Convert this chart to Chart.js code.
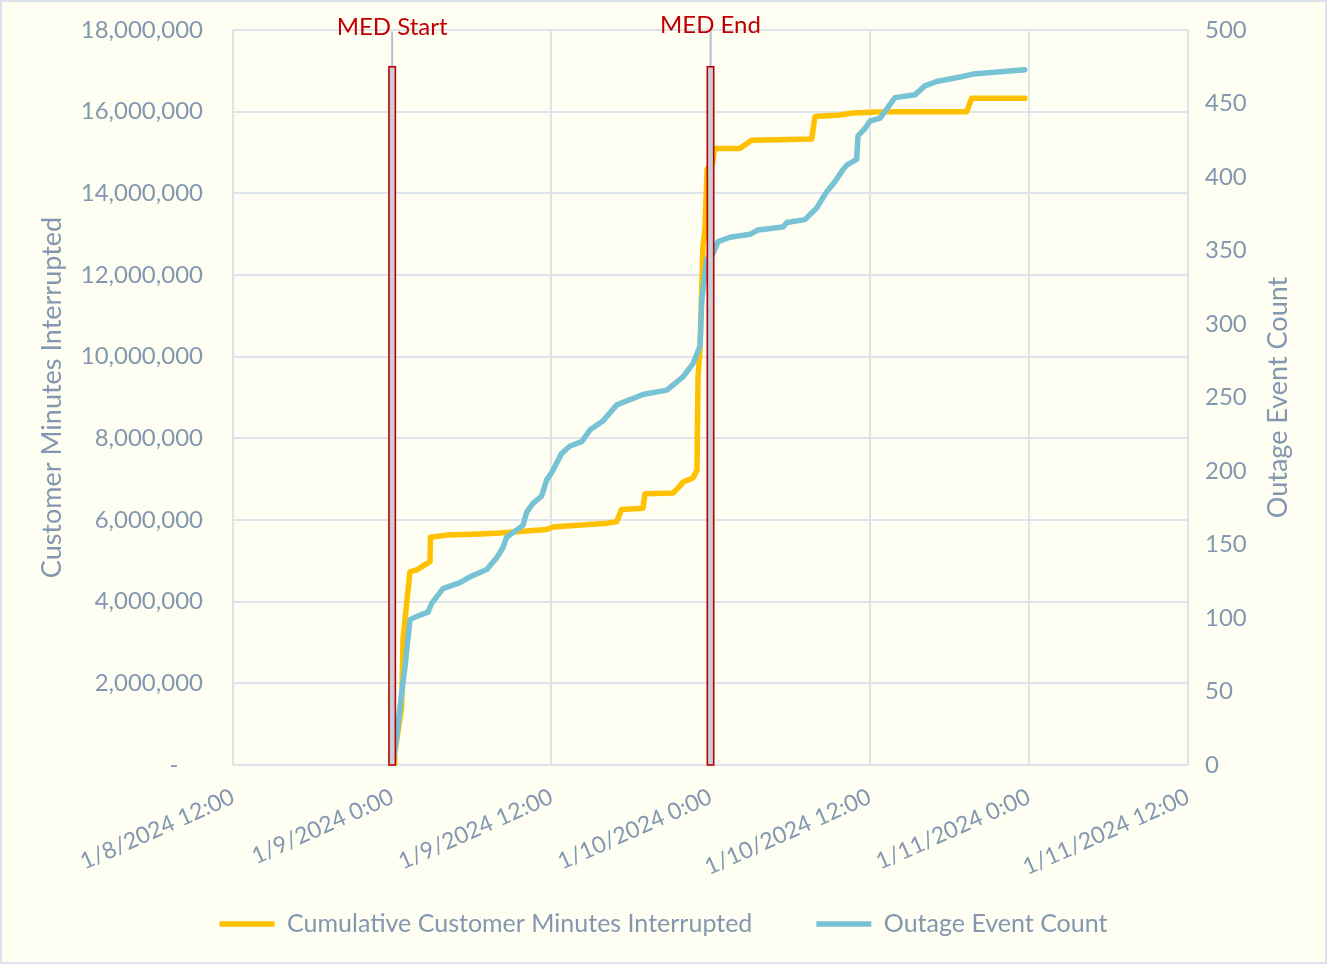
<!DOCTYPE html>
<html>
<head>
<meta charset="utf-8">
<title>Outage minutes and event count</title>
<script src="https://cdn.jsdelivr.net/npm/chart.js@4.4.1/dist/chart.umd.min.js"></script>
<style>
  html, body { margin: 0; padding: 0; background: #fefef3; }
  canvas { display: block; }
</style>
</head>
<body>
<canvas id="outageChart" width="1327" height="964"></canvas>
<script>
'use strict';

// hours counted from 1/8/2024 0:00
const xTickLabels = ['1/8/2024 12:00', '1/9/2024 0:00', '1/9/2024 12:00', '1/10/2024 0:00',
	'1/10/2024 12:00', '1/11/2024 0:00', '1/11/2024 12:00'];

const cmiHours = [24.14, 24.2, 24.72, 24.82, 25.34, 25.85, 26.85, 26.89, 28.11, 30.62, 32.13, 35.65,
	36.13, 40.17, 40.93, 41.3, 42.91, 43.06, 45.17, 45.55, 45.93, 46.68, 46.98, 47.06, 47.21, 47.43,
	47.58, 47.74, 48.15, 48.3, 50.2, 51.1, 55.63, 55.88, 57.77, 58.74, 61.0, 67.31, 67.69, 71.71];
const cmiValues = [0, 300000, 1430000, 3100000, 4730000, 4780000, 4980000, 5580000, 5630000, 5660000,
	5680000, 5770000, 5830000, 5920000, 5960000, 6260000, 6290000, 6640000, 6660000, 6780000, 6930000,
	7030000, 7220000, 9500000, 10200000, 12700000, 13100000, 14600000, 14700000, 15100000, 15100000,
	15300000, 15330000, 15880000, 15920000, 15970000, 16000000, 16000000, 16330000, 16330000];

const countHours = [24.06, 24.34, 24.72, 24.97, 25.34, 25.85, 26.7, 26.98, 27.83, 29.11, 29.87, 30.62,
	31.13, 31.88, 32.36, 32.63, 33.86, 34.14, 34.62, 35.27, 35.65, 36.03, 36.78, 37.41, 38.29, 38.92,
	39.89, 40.93, 42.91, 44.7, 45.93, 46.68, 47.21, 47.34, 47.71, 48.19, 48.57, 49.47, 50.98, 51.58,
	53.47, 53.75, 55.12, 56.01, 56.76, 57.39, 57.99, 58.27, 59.02, 59.12, 59.65, 60.02, 60.78, 61.91,
	63.42, 64.17, 65.05, 66.81, 67.79, 71.71];
const countValues = [1, 19, 49, 67, 99, 101, 104, 110, 120, 124, 128, 131, 133, 141, 148, 155, 163, 172,
	178, 183, 194, 199, 212, 217, 220, 228, 234, 245, 252, 255, 264, 273, 285, 316, 344, 348, 356, 359,
	361, 364, 366, 369, 371, 379, 390, 397, 405, 408, 412, 428, 433, 438, 440, 454, 456, 462, 465, 468,
	470, 473];

const medHours = [24, 48];
const medLabels = ['MED Start', 'MED End'];

const textColor = '#8497b0';
const gridColor = '#dee4ec';

const toPoints = (xs, ys) => xs.map((x, i) => ({ x: x, y: ys[i] }));

// keep the axis label padding from pushing the plot area down
const fitWidth = (w) => (axis) => {
	axis.width = w;
	axis.paddingTop = 0;
	axis.paddingBottom = 0;
};

const background = {
	id: 'background',
	beforeDraw(chart) {
		const ctx = chart.ctx;
		ctx.save();
		ctx.fillStyle = '#fefef3';
		ctx.fillRect(0, 0, chart.width, chart.height);
		ctx.strokeStyle = '#dce3ec';
		ctx.lineWidth = 2;
		ctx.strokeRect(1, 1, chart.width - 2, chart.height - 2);
		ctx.restore();
	},
};

const medMarkers = {
	id: 'medMarkers',
	afterDatasetsDraw(chart) {
		const ctx = chart.ctx;
		const x = chart.scales.x;
		const y2 = chart.scales.y2;
		const bottom = chart.chartArea.bottom;
		const barTop = y2.getPixelForValue(475);
		const lineTop = y2.getPixelForValue(500) + 2;
		ctx.save();
		medHours.forEach((h, i) => {
			const px = x.getPixelForValue(h);
			ctx.strokeStyle = '#b4c0cd';
			ctx.lineWidth = 1.8;
			ctx.beginPath();
			ctx.moveTo(px, lineTop);
			ctx.lineTo(px, barTop);
			ctx.stroke();
			ctx.fillStyle = '#c6cfda';
			ctx.fillRect(px - 3.2, barTop, 6.4, bottom - barTop);
			ctx.strokeStyle = '#c00000';
			ctx.lineWidth = 1.6;
			ctx.strokeRect(px - 3.2, barTop, 6.4, bottom - barTop);
			ctx.fillStyle = '#c00000';
			ctx.font = '24px Lato';
			ctx.textAlign = 'center';
			ctx.textBaseline = 'middle';
			ctx.fillText(medLabels[i], px, i === 0 ? 27 : 25);
		});
		ctx.restore();
	},
};

const rightTitle = {
	id: 'rightTitle',
	afterDraw(chart) {
		const ctx = chart.ctx;
		const area = chart.chartArea;
		ctx.save();
		ctx.translate(1278, (area.top + area.bottom) / 2);
		ctx.rotate(-Math.PI / 2);
		ctx.fillStyle = textColor;
		ctx.font = '27px Lato';
		ctx.textAlign = 'center';
		ctx.textBaseline = 'middle';
		ctx.fillText('Outage Event Count', 0, 0);
		ctx.restore();
	},
};

Chart.defaults.font.family = 'Lato';
Chart.defaults.color = textColor;

const outageChart = new Chart(document.getElementById('outageChart'), {
	type: 'line',
	data: {
		datasets: [
			{
				label: 'Cumulative Customer Minutes Interrupted',
				data: toPoints(cmiHours, cmiValues),
				yAxisID: 'y',
				borderColor: '#ffc000',
				backgroundColor: '#ffc000',
				borderWidth: 5.5,
				borderCapStyle: 'round',
				borderJoinStyle: 'round',
				pointRadius: 0,
				tension: 0,
				order: 1,
			},
			{
				label: 'Outage Event Count',
				data: toPoints(countHours, countValues),
				yAxisID: 'y2',
				borderColor: '#77c3d5',
				backgroundColor: '#77c3d5',
				borderWidth: 5.5,
				borderCapStyle: 'round',
				borderJoinStyle: 'round',
				pointRadius: 0,
				tension: 0,
				order: 0,
			},
		],
	},
	options: {
		responsive: false,
		animation: false,
		devicePixelRatio: 1,
		layout: { padding: { left: 0, right: 0, top: 30, bottom: 17.5 } },
		plugins: {
			tooltip: { enabled: false },
			legend: {
				position: 'bottom',
				labels: {
					sort: (a, b) => a.datasetIndex - b.datasetIndex,
					generateLabels: (chart) => {
						const items = Chart.defaults.plugins.legend.labels.generateLabels(chart);
						// widen the gap after the first entry
						items.find((it) => it.datasetIndex === 0).text += '     ';
						return items;
					},
					usePointStyle: true,
					pointStyle: 'line',
					pointStyleWidth: 55,
					padding: 32,
					color: textColor,
					font: { size: 25 },
				},
			},
		},
		scales: {
			x: {
				type: 'linear',
				min: 12,
				max: 84,
				afterFit: (axis) => { axis.height = 114.5; },
				ticks: {
					stepSize: 12,
					minRotation: 24,
					maxRotation: 24,
					padding: 18,
					color: textColor,
					font: { size: 23 },
					callback: (value) => xTickLabels[(value - 12) / 12],
				},
				grid: { color: gridColor, lineWidth: 2, drawTicks: false },
				border: { display: false },
			},
			y: {
				position: 'left',
				min: 0,
				max: 18000000,
				afterFit: fitWidth(233),
				ticks: {
					stepSize: 2000000,
					padding: 30,
					color: textColor,
					font: { size: 24 },
					callback: (value) => (value === 0 ? '-    ' : value.toLocaleString('en-US')),
				},
				title: {
					display: true,
					text: 'Customer Minutes Interrupted',
					color: textColor,
					font: { size: 27 },
					padding: { top: 36, bottom: 0 },
				},
				grid: { color: gridColor, lineWidth: 2, drawTicks: false },
				border: { display: false },
			},
			y2: {
				position: 'right',
				min: 0,
				max: 500,
				afterFit: fitWidth(139),
				ticks: {
					stepSize: 50,
					padding: 17,
					color: textColor,
					font: { size: 24 },
				},
				grid: { display: false, drawTicks: false },
				border: { display: false },
			},
		},
	},
	plugins: [background, medMarkers, rightTitle],
});
</script>
</body>
</html>
